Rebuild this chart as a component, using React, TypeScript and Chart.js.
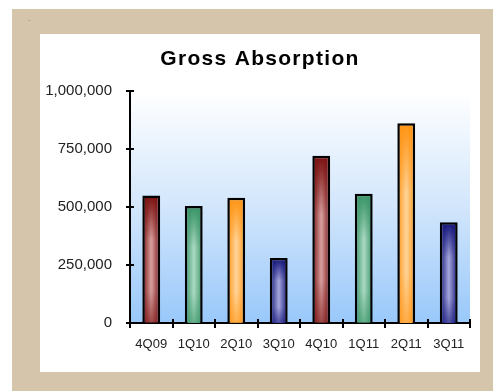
import React, { useEffect, useRef } from "react";
import { Chart, registerables } from "chart.js";

Chart.register(...registerables);

// Quarterly gross absorption (square feet)
const quarters = ["4Q09", "1Q10", "2Q10", "3Q10", "4Q10", "1Q11", "2Q11", "3Q11"];
const grossAbsorption = [550000, 505000, 540000, 280000, 722000, 558000, 862000, 435000];

// Bar palette, repeating every four quarters: edge shade and highlight shade
const barEdgeColors = ["#7a1010", "#389466", "#ff9414", "#15157a"];
const barCenterColors = ["#d9a2a2", "#acdac4", "#ffd69c", "#a6a8dc"];

const Y_MAX = 1000000;
const Y_STEP = 250000;
const BAR_PCT = 0.42;
const FONT = '"Liberation Sans", Arial, Helvetica, sans-serif';

// Soft white-to-sky-blue fill behind the plot
const plotBackground = {
  id: "plotBackground",
  beforeDraw(chart: any) {
    const { ctx, chartArea: a } = chart;
    if (!a) return;
    const g = ctx.createLinearGradient(0, a.top, 0, a.bottom);
    g.addColorStop(0, "#ffffff");
    g.addColorStop(0.5, "#d2e6fc");
    g.addColorStop(1, "#98c8fa");
    ctx.save();
    ctx.fillStyle = g;
    ctx.fillRect(a.left, a.top, a.right - a.left, a.bottom - a.top);
    ctx.restore();
  },
};

// Tick marks that straddle both axis lines
const crossTicks = {
  id: "crossTicks",
  afterDraw(chart: any) {
    const { ctx } = chart;
    const x = chart.scales.x;
    const y = chart.scales.y;
    ctx.save();
    ctx.strokeStyle = "#000";
    ctx.lineWidth = 2;
    ctx.beginPath();
    const ax = Math.round(y.right);
    y.ticks.forEach((_: any, i: number) => {
      const py = Math.round(y.getPixelForTick(i));
      ctx.moveTo(ax - 4, py);
      ctx.lineTo(ax + 4, py);
    });
    const ay = Math.round(x.top);
    for (let i = 0; i <= quarters.length; i++) {
      const px = Math.round(x.getPixelForValue(i - 0.5));
      ctx.moveTo(px, ay - 4);
      ctx.lineTo(px, ay + 5);
    }
    ctx.stroke();
    ctx.restore();
  },
};

// Spaced lettering for the heading, centred on the whole panel
const spacedTitle = {
  id: "spacedTitle",
  afterLayout(chart: any) {
    const block = chart.titleBlock;
    if (!block || block.__spaced) return;
    const draw = block.draw.bind(block);
    block.draw = (...args: any[]) => {
      const c = chart.ctx;
      c.save();
      c.translate(5, 0);
      c.letterSpacing = "1.3px";
      draw(...args);
      c.restore();
    };
    block.__spaced = true;
  },
};

// Rounded "tube" shading: light core across the width, darker toward top and base
function barFill(ctx: any) {
  const k = ctx.dataIndex % barEdgeColors.length;
  const edge = barEdgeColors[k];
  const center = barCenterColors[k];
  const chart = ctx.chart;
  const xs = chart.scales?.x;
  const ys = chart.scales?.y;
  if (!xs || !ys || !isFinite(xs.width) || xs.width <= 0) return edge;
  const cx = xs.getPixelForValue(ctx.dataIndex);
  const w = (xs.width / quarters.length) * BAR_PCT;
  const top = ys.getPixelForValue(grossAbsorption[ctx.dataIndex]);
  const base = ys.getPixelForValue(0);
  const h = Math.max(1, Math.round(base - top));
  const wi = Math.max(1, Math.ceil(w));
  const left = cx - w / 2;

  const off = document.createElement("canvas");
  off.width = wi;
  off.height = h;
  const o = off.getContext("2d")!;
  const hg = o.createLinearGradient(0, 0, wi, 0);
  hg.addColorStop(0, edge);
  hg.addColorStop(0.5, center);
  hg.addColorStop(1, edge);
  o.fillStyle = hg;
  o.fillRect(0, 0, wi, h);

  const vg = o.createLinearGradient(0, 0, 0, h);
  vg.addColorStop(0, edge);
  vg.addColorStop(0.08, edge + "cc");
  vg.addColorStop(0.35, edge + "00");
  vg.addColorStop(0.75, edge + "00");
  vg.addColorStop(1, edge + "99");
  o.fillStyle = vg;
  o.fillRect(0, 0, wi, h);

  const pattern = chart.ctx.createPattern(off, "no-repeat");
  if (!pattern) return edge;
  pattern.setTransform(new DOMMatrix().translate(left, top));
  return pattern;
}

function GrossAbsorptionChart() {
  const ref = useRef<HTMLCanvasElement | null>(null);

  useEffect(() => {
    if (!ref.current) return;
    const chart = new Chart(ref.current, {
      type: "bar",
      data: {
        labels: quarters,
        datasets: [
          {
            data: grossAbsorption,
            backgroundColor: barFill as any,
            borderColor: "#000",
            borderWidth: 2.5,
            categoryPercentage: 1,
            barPercentage: BAR_PCT,
          },
        ],
      },
      options: {
        responsive: false,
        animation: false,
        layout: { padding: { top: 0, right: 10, bottom: 0, left: 0 } },
        plugins: {
          legend: { display: false },
          tooltip: { enabled: false },
          title: {
            display: true,
            text: "Gross Absorption",
            color: "#000",
            font: { family: FONT, size: 21, weight: "bold" },
            padding: { top: 13, bottom: 19 },
          },
        },
        scales: {
          x: {
            offset: true,
            grid: { display: false, drawTicks: false },
            border: { display: true, color: "#000", width: 2 },
            ticks: { color: "#222", font: { family: FONT, size: 13 }, padding: 14, maxRotation: 0 },
            afterFit(scale: any) {
              scale.height = 49;
            },
          },
          y: {
            min: 0,
            max: Y_MAX,
            grid: { display: false, drawTicks: false },
            border: { display: true, color: "#000", width: 2 },
            ticks: {
              stepSize: Y_STEP,
              color: "#222",
              font: { family: FONT, size: 15 },
              padding: 18,
              callback: (v: any) => Number(v).toLocaleString("en-US"),
            },
            afterFit(scale: any) {
              scale.width = 90;
            },
          },
        },
      },
      plugins: [plotBackground, crossTicks, spacedTitle],
    });
    return () => chart.destroy();
  }, []);

  return <canvas ref={ref} width={440} height={338} style={{ display: "block", width: 440, height: 338 }} />;
}

export default function App() {
  return (
    <div style={{ position: "fixed", left: 0, top: 0, width: 493, height: 391, background: "#fff", overflow: "hidden" }}>
      <div style={{ position: "absolute", left: 12, top: 9, width: 481, height: 382, background: "#d5c6ab" }} />
      <span style={{ position: "absolute", left: 28, top: 14, fontSize: 8, color: "#555", fontFamily: FONT }}>.</span>
      <div style={{ position: "absolute", left: 40, top: 34, width: 440, height: 338, background: "#fff" }}>
        <GrossAbsorptionChart />
      </div>
    </div>
  );
}
